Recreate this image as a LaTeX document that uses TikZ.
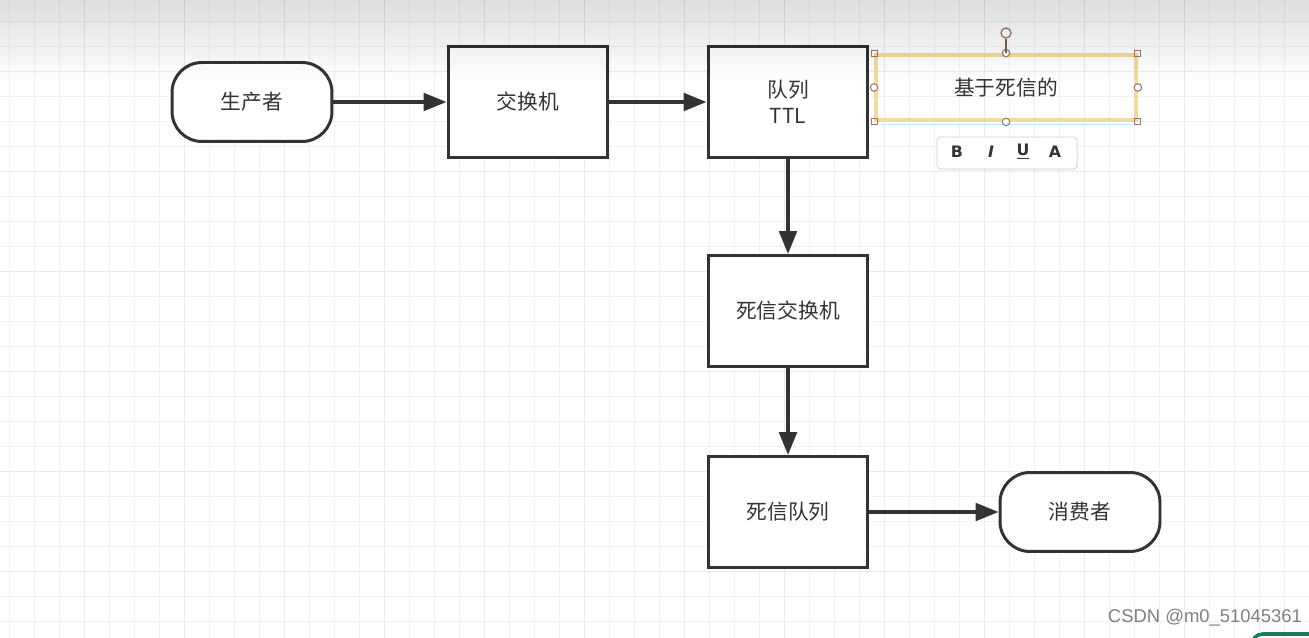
\documentclass[tikz,border=0pt]{standalone}
\usepackage{fontspec}
\setmainfont{Noto Sans CJK SC}
\newfontfamily\uifont{DejaVu Sans}
\newfontfamily\markfont{Liberation Sans}
\usetikzlibrary{arrows.meta,positioning,shadows}

\definecolor{ink}{HTML}{333333}
\definecolor{gridminor}{HTML}{F1F1F1}
\definecolor{gridmajor}{HTML}{EAEAEA}
\definecolor{selframe}{HTML}{F5D9A3}
\definecolor{handle}{HTML}{A07468}
\definecolor{cornergreen}{HTML}{1F7A5C}

\begin{document}
\begin{tikzpicture}[x=0.02cm, y=-0.02cm,
        procbox/.style={draw=ink, line width=1.7pt, fill=white, text=ink, align=center,
            minimum width=3.2cm, minimum height=2.22cm, inner sep=0pt,
            font=\fontsize{11.8}{14.7}\selectfont},
        terminal/.style={procbox, rounded corners=0.6cm, minimum height=1.58cm},
        flow/.style={ink, line width=1.9pt, -{Triangle[length=13pt, width=10pt]}},
        tbletter/.style={text=ink, inner sep=0pt, font=\uifont\bfseries\fontsize{9}{9}\selectfont}]
    \useasboundingbox (0,0) rectangle (1309,638);
    \fill[white] (0,0) rectangle (1309,638);
    % grid paper
    \foreach \gx in {9.5,34.5,...,1309}
        \draw[gridminor, line width=0.5pt] (\gx,0) -- (\gx,638);
    \foreach \gy in {21.5,46.5,...,638}
        \draw[gridminor, line width=0.5pt] (0,\gy) -- (1309,\gy);
    \foreach \gx in {84.5,184.5,...,1284}
        \draw[gridmajor, line width=0.5pt] (\gx,0) -- (\gx,638);
    \foreach \gy in {71.5,171.5,...,638}
        \draw[gridmajor, line width=0.5pt] (0,\gy) -- (1309,\gy);

    % flow
    \node[terminal] (prod) at (252,102) {生产者};
    \node[procbox] (exch) at (528,102) {交换机};
    \node[procbox] (ttlq) at (788,102) {队列\\TTL};
    \node[procbox] (dlx) at (788,311) {死信交换机};
    \node[procbox] (dlq) at (788,512) {死信队列};
    \node[terminal] (cons) at (1080,512) {消费者};

    \draw[flow] (prod) -- (exch);
    \draw[flow] (exch) -- (ttlq);
    \draw[flow] (ttlq) -- (dlx);
    \draw[flow] (dlx) -- (dlq);
    \draw[flow] (dlq) -- (cons);

    % text box being edited
    \node[draw=selframe, line width=2.2pt, minimum width=5.2cm, minimum height=1.3cm,
        text=ink, font=\fontsize{11.8}{14.7}\selectfont] (note) at (1006,87.5) {基于死信的};
    \draw[cyan!25, line width=0.8pt] ([shift={(4pt,-1.5pt)}]note.south west) -- ([shift={(-4pt,-1.5pt)}]note.south east);
    \foreach \hp in {north west, north east, south west, south east}
        \draw[handle, line width=0.6pt] ([shift={(-0.06cm,-0.06cm)}]note.\hp) rectangle ([shift={(0.06cm,0.06cm)}]note.\hp);
    \foreach \hp in {north, south, west, east}
        \draw[handle, line width=0.6pt, fill=white] (note.\hp) circle[radius=0.075cm];
    \node[circle, draw=handle, line width=0.7pt, fill=white, minimum size=0.2cm, inner sep=0pt] (rot) at (1006,33) {};
    \draw[handle!80!black, line width=0.8pt] (rot) -- (note.north);

    % format toolbar
    \node[draw=black!18, fill=white, rounded corners=2pt, minimum width=2.8cm, minimum height=0.64cm,
        drop shadow={opacity=0.12, shadow xshift=0.4pt, shadow yshift=-0.8pt}] (toolbar) at (1007,153) {};
    \node[tbletter] (tb) at (957,152) {B};
    \node[tbletter, font=\uifont\bfseries\itshape\fontsize{9}{9}\selectfont] (ti) at (991,152) {I};
    \node[tbletter] (tu) at (1023,152) {\underline{U}};
    \node[tbletter] (ta) at (1055,152) {A};

    % top shadow of the editor
    \foreach \k in {1,...,16}
        \fill[black, fill opacity=0.0068] (0,-5) rectangle (1309,5*\k);

    % watermark and corner widget
    \node[text=black!50, font=\markfont\fontsize{10.5}{10.5}\selectfont] (mark) at (1205,618) {CSDN @m0\_51045361};
    \draw[cornergreen, line width=2pt, rounded corners=6pt] (1252,660) -- (1252,634) -- (1330,634);
\end{tikzpicture}
\end{document}
